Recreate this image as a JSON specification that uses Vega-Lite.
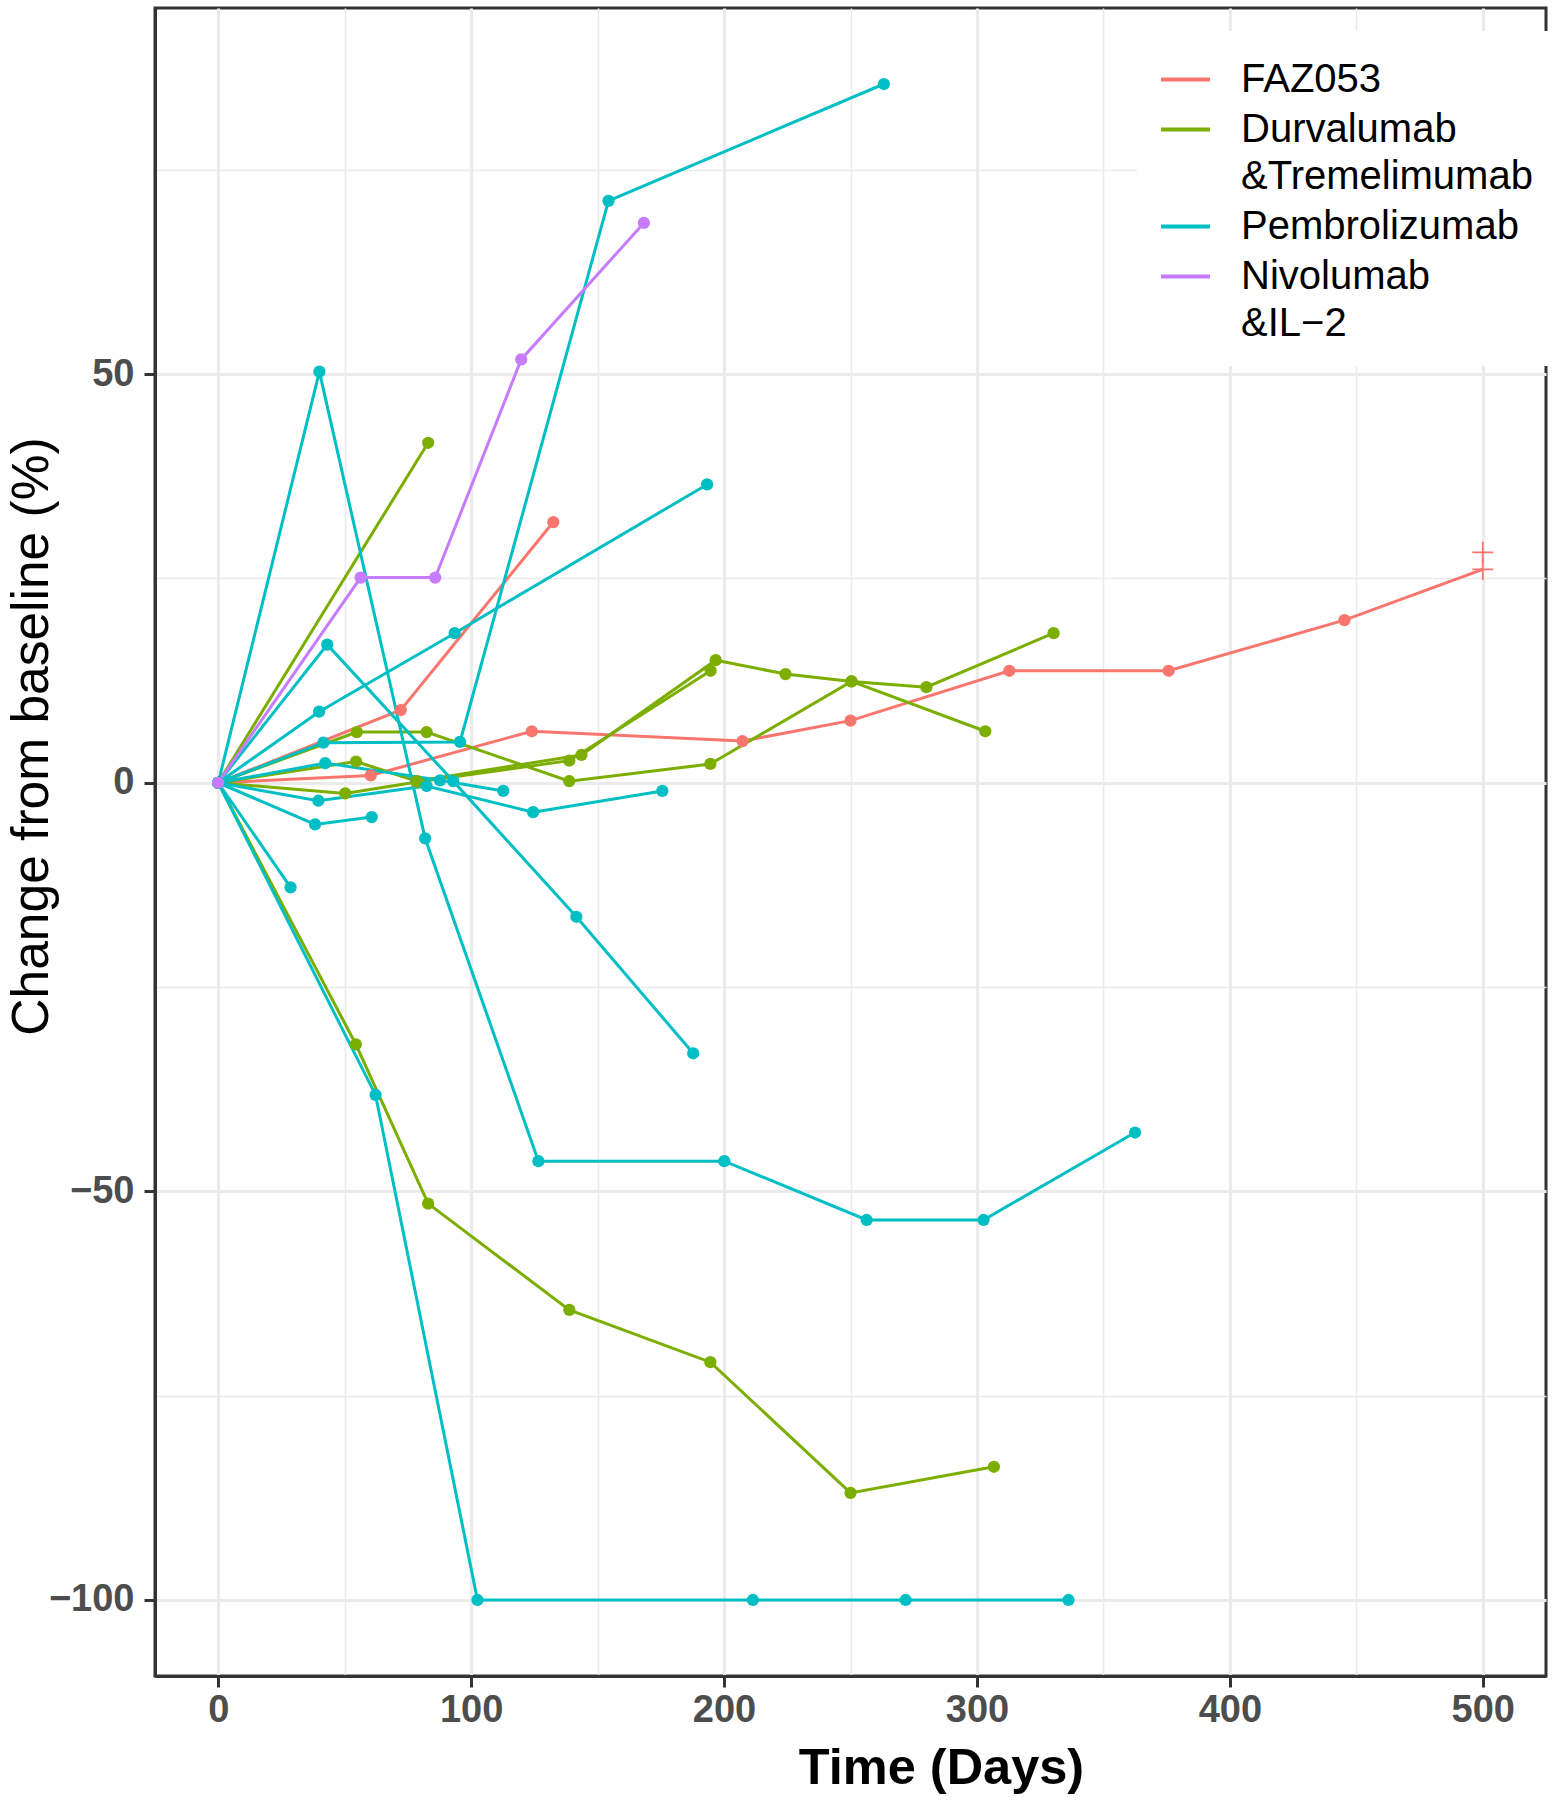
{
  "$schema": "https://vega.github.io/schema/vega-lite/v6.json",
  "width": 1391,
  "height": 1668,
  "autosize": "none",
  "padding": {"left": 155, "top": 8, "right": 8, "bottom": 124},
  "background": "white",
  "datasets": {
    "pts": [
      {"id": "R1", "tx": "FAZ053", "day": 0, "pct": 0, "end": false},
      {"id": "R1", "tx": "FAZ053", "day": 72.2, "pct": 8.9, "end": false},
      {"id": "R1", "tx": "FAZ053", "day": 132.5, "pct": 31.9, "end": false},
      {"id": "R2", "tx": "FAZ053", "day": 0, "pct": 0, "end": false},
      {"id": "R2", "tx": "FAZ053", "day": 60.3, "pct": 0.9, "end": false},
      {"id": "R2", "tx": "FAZ053", "day": 124, "pct": 6.3, "end": false},
      {"id": "R2", "tx": "FAZ053", "day": 207.3, "pct": 5.1, "end": false},
      {"id": "R2", "tx": "FAZ053", "day": 250, "pct": 7.6, "end": false},
      {"id": "R2", "tx": "FAZ053", "day": 312.8, "pct": 13.7, "end": false},
      {"id": "R2", "tx": "FAZ053", "day": 375.8, "pct": 13.7, "end": false},
      {"id": "R2", "tx": "FAZ053", "day": 445.3, "pct": 19.9, "end": false},
      {"id": "R2", "tx": "FAZ053", "day": 500, "pct": 26.1, "end": true},
      {"id": "G1", "tx": "Durvalumab &Tremelimumab", "day": 0, "pct": 0, "end": false},
      {"id": "G1", "tx": "Durvalumab &Tremelimumab", "day": 83, "pct": 41.6, "end": false},
      {"id": "G2", "tx": "Durvalumab &Tremelimumab", "day": 0, "pct": 0, "end": false},
      {"id": "G2", "tx": "Durvalumab &Tremelimumab", "day": 54.4, "pct": -32.0, "end": false},
      {"id": "G2", "tx": "Durvalumab &Tremelimumab", "day": 83.0, "pct": -51.5, "end": false},
      {"id": "G2", "tx": "Durvalumab &Tremelimumab", "day": 138.8, "pct": -64.5, "end": false},
      {"id": "G2", "tx": "Durvalumab &Tremelimumab", "day": 194.6, "pct": -70.9, "end": false},
      {"id": "G2", "tx": "Durvalumab &Tremelimumab", "day": 250, "pct": -86.9, "end": false},
      {"id": "G2", "tx": "Durvalumab &Tremelimumab", "day": 306.7, "pct": -83.7, "end": false},
      {"id": "G3", "tx": "Durvalumab &Tremelimumab", "day": 0, "pct": 0, "end": false},
      {"id": "G3", "tx": "Durvalumab &Tremelimumab", "day": 54.8, "pct": 6.2, "end": false},
      {"id": "G3", "tx": "Durvalumab &Tremelimumab", "day": 82.4, "pct": 6.2, "end": false},
      {"id": "G3", "tx": "Durvalumab &Tremelimumab", "day": 138.8, "pct": 0.2, "end": false},
      {"id": "G3", "tx": "Durvalumab &Tremelimumab", "day": 194.6, "pct": 2.3, "end": false},
      {"id": "G3", "tx": "Durvalumab &Tremelimumab", "day": 250.4, "pct": 12.4, "end": false},
      {"id": "G3", "tx": "Durvalumab &Tremelimumab", "day": 303.3, "pct": 6.3, "end": false},
      {"id": "G4", "tx": "Durvalumab &Tremelimumab", "day": 0, "pct": 0, "end": false},
      {"id": "G4", "tx": "Durvalumab &Tremelimumab", "day": 54.5, "pct": 2.6, "end": false},
      {"id": "G4", "tx": "Durvalumab &Tremelimumab", "day": 78.5, "pct": 0.2, "end": false},
      {"id": "G4", "tx": "Durvalumab &Tremelimumab", "day": 143.6, "pct": 3.4, "end": false},
      {"id": "G4", "tx": "Durvalumab &Tremelimumab", "day": 196.7, "pct": 15.0, "end": false},
      {"id": "G4", "tx": "Durvalumab &Tremelimumab", "day": 224.3, "pct": 13.3, "end": false},
      {"id": "G4", "tx": "Durvalumab &Tremelimumab", "day": 250.4, "pct": 12.4, "end": false},
      {"id": "G4", "tx": "Durvalumab &Tremelimumab", "day": 280, "pct": 11.7, "end": false},
      {"id": "G4", "tx": "Durvalumab &Tremelimumab", "day": 330.3, "pct": 18.3, "end": false},
      {"id": "G5", "tx": "Durvalumab &Tremelimumab", "day": 0, "pct": 0, "end": false},
      {"id": "G5", "tx": "Durvalumab &Tremelimumab", "day": 50.2, "pct": -1.3, "end": false},
      {"id": "G5", "tx": "Durvalumab &Tremelimumab", "day": 78.5, "pct": 0.1, "end": false},
      {"id": "G5", "tx": "Durvalumab &Tremelimumab", "day": 138.8, "pct": 2.7, "end": false},
      {"id": "G5", "tx": "Durvalumab &Tremelimumab", "day": 194.7, "pct": 13.7, "end": false},
      {"id": "P1", "tx": "Pembrolizumab", "day": 0, "pct": 0, "end": false},
      {"id": "P1", "tx": "Pembrolizumab", "day": 41.6, "pct": 4.9, "end": false},
      {"id": "P1", "tx": "Pembrolizumab", "day": 95.6, "pct": 5.0, "end": false},
      {"id": "P1", "tx": "Pembrolizumab", "day": 154.3, "pct": 71.2, "end": false},
      {"id": "P1", "tx": "Pembrolizumab", "day": 263.2, "pct": 85.5, "end": false},
      {"id": "P2", "tx": "Pembrolizumab", "day": 0, "pct": 0, "end": false},
      {"id": "P2", "tx": "Pembrolizumab", "day": 40, "pct": 50.3, "end": false},
      {"id": "P2", "tx": "Pembrolizumab", "day": 81.8, "pct": -6.8, "end": false},
      {"id": "P2", "tx": "Pembrolizumab", "day": 126.6, "pct": -46.3, "end": false},
      {"id": "P2", "tx": "Pembrolizumab", "day": 200.1, "pct": -46.3, "end": false},
      {"id": "P2", "tx": "Pembrolizumab", "day": 256.4, "pct": -53.5, "end": false},
      {"id": "P2", "tx": "Pembrolizumab", "day": 302.6, "pct": -53.5, "end": false},
      {"id": "P2", "tx": "Pembrolizumab", "day": 362.5, "pct": -42.8, "end": false},
      {"id": "P3", "tx": "Pembrolizumab", "day": 0, "pct": 0, "end": false},
      {"id": "P3", "tx": "Pembrolizumab", "day": 28.6, "pct": -12.8, "end": false},
      {"id": "P4", "tx": "Pembrolizumab", "day": 0, "pct": 0, "end": false},
      {"id": "P4", "tx": "Pembrolizumab", "day": 43.1, "pct": 16.9, "end": false},
      {"id": "P4", "tx": "Pembrolizumab", "day": 92.9, "pct": 0.2, "end": false},
      {"id": "P4", "tx": "Pembrolizumab", "day": 141.6, "pct": -16.4, "end": false},
      {"id": "P4", "tx": "Pembrolizumab", "day": 187.8, "pct": -33.1, "end": false},
      {"id": "P5", "tx": "Pembrolizumab", "day": 0, "pct": 0, "end": false},
      {"id": "P5", "tx": "Pembrolizumab", "day": 39.9, "pct": 8.7, "end": false},
      {"id": "P5", "tx": "Pembrolizumab", "day": 93.5, "pct": 18.3, "end": false},
      {"id": "P5", "tx": "Pembrolizumab", "day": 193.3, "pct": 36.5, "end": false},
      {"id": "P6", "tx": "Pembrolizumab", "day": 0, "pct": 0, "end": false},
      {"id": "P6", "tx": "Pembrolizumab", "day": 42.3, "pct": 2.4, "end": false},
      {"id": "P6", "tx": "Pembrolizumab", "day": 87.7, "pct": 0.3, "end": false},
      {"id": "P6", "tx": "Pembrolizumab", "day": 112.7, "pct": -1.0, "end": false},
      {"id": "P7", "tx": "Pembrolizumab", "day": 0, "pct": 0, "end": false},
      {"id": "P7", "tx": "Pembrolizumab", "day": 39.6, "pct": -2.2, "end": false},
      {"id": "P7", "tx": "Pembrolizumab", "day": 82.4, "pct": -0.4, "end": false},
      {"id": "P7", "tx": "Pembrolizumab", "day": 124.5, "pct": -3.6, "end": false},
      {"id": "P7", "tx": "Pembrolizumab", "day": 175.6, "pct": -1.0, "end": false},
      {"id": "P8", "tx": "Pembrolizumab", "day": 0, "pct": 0, "end": false},
      {"id": "P8", "tx": "Pembrolizumab", "day": 38.3, "pct": -5.1, "end": false},
      {"id": "P8", "tx": "Pembrolizumab", "day": 60.7, "pct": -4.2, "end": false},
      {"id": "P9", "tx": "Pembrolizumab", "day": 0, "pct": 0, "end": false},
      {"id": "P9", "tx": "Pembrolizumab", "day": 62.2, "pct": -38.2, "end": false},
      {"id": "P9", "tx": "Pembrolizumab", "day": 102.5, "pct": -100, "end": false},
      {"id": "P9", "tx": "Pembrolizumab", "day": 211.4, "pct": -100, "end": false},
      {"id": "P9", "tx": "Pembrolizumab", "day": 271.8, "pct": -100, "end": false},
      {"id": "P9", "tx": "Pembrolizumab", "day": 336.2, "pct": -100, "end": false},
      {"id": "N1", "tx": "Nivolumab &IL-2", "day": 0, "pct": 0, "end": false},
      {"id": "N1", "tx": "Nivolumab &IL-2", "day": 56.3, "pct": 25.1, "end": false},
      {"id": "N1", "tx": "Nivolumab &IL-2", "day": 85.8, "pct": 25.1, "end": false},
      {"id": "N1", "tx": "Nivolumab &IL-2", "day": 119.8, "pct": 51.8, "end": false},
      {"id": "N1", "tx": "Nivolumab &IL-2", "day": 168.3, "pct": 68.5, "end": false}
    ],
    "censor": [
      {"tx": "FAZ053", "day": 500, "pct": 26.1},
      {"tx": "FAZ053", "day": 500, "pct": 28.2}
    ]
  },
  "config": {
    "font": "Liberation Sans",
    "view": {"stroke": "#333333", "strokeWidth": 3},
    "axis": {
      "domainColor": "#333333",
      "domainWidth": 3,
      "tickColor": "#333333",
      "tickWidth": 3,
      "tickSize": 11,
      "gridColor": "#ebebeb",
      "labelFont": "Liberation Sans",
      "labelFontSize": 38,
      "labelFontWeight": "bold",
      "labelColor": "#4d4d4d",
      "labelOverlap": false,
      "labelFlush": false,
      "labelBound": false,
      "titleFont": "Liberation Sans",
      "titleColor": "#000000"
    }
  },
  "layer": [
    {
      "data": {"name": "pts"},
      "mark": {"type": "line", "strokeWidth": 3},
      "encoding": {
        "x": {
          "field": "day", "type": "quantitative",
          "scale": {"domain": [-25, 525], "nice": false, "zero": false},
          "axis": {
            "values": [0, 50, 100, 150, 200, 250, 300, 350, 400, 450, 500],
            "labelExpr": "datum.value % 100 === 0 ? datum.label : ''",
            "gridWidth": {"condition": {"test": "datum.value % 100 === 0", "value": 3.2}, "value": 1.6},
            "tickOpacity": {"condition": {"test": "datum.value % 100 === 0", "value": 1}, "value": 0},
            "labelPadding": 4,
            "title": "Time (Days)",
            "titleFontSize": 50.5,
            "titleFontWeight": "bold",
            "titleX": 786,
            "titleY": 107,
            "titleBaseline": "alphabetic",
            "titleAlign": "center"
          }
        },
        "y": {
          "field": "pct", "type": "quantitative",
          "scale": {"domain": [-109.3, 94.8], "nice": false, "zero": false},
          "axis": {
            "values": [-100, -75, -50, -25, 0, 25, 50, 75],
            "labelExpr": "datum.value % 50 === 0 ? datum.label : ''",
            "gridWidth": {"condition": {"test": "datum.value % 50 === 0", "value": 3.2}, "value": 1.6},
            "tickOpacity": {"condition": {"test": "datum.value % 50 === 0", "value": 1}, "value": 0},
            "labelPadding": 10,
            "title": "Change from baseline (%)",
            "titleFontSize": 51.5,
            "titleFontWeight": "normal",
            "titleAngle": 270,
            "titleX": -108,
            "titleY": 728,
            "titleBaseline": "alphabetic",
            "titleAlign": "center"
          }
        },
        "color": {
          "field": "tx", "type": "nominal",
          "scale": {
            "domain": ["FAZ053", "Durvalumab &Tremelimumab", "Pembrolizumab", "Nivolumab &IL-2"],
            "range": ["#F8766D", "#7CAE00", "#00BFC4", "#C77CFF"]
          },
          "legend": {
            "orient": "none",
            "legendX": 982,
            "legendY": 23,
            "title": null,
            "symbolType": "stroke",
            "symbolSize": 2400,
            "symbolStrokeWidth": 4,
            "labelFont": "Liberation Sans",
            "labelFontSize": 40,
            "labelColor": "#000000",
            "labelOffset": 29,
            "labelLimit": 0,
            "rowPadding": 3,
            "padding": 22,
            "fillColor": "white",
            "labelExpr": "datum.label === 'Durvalumab &Tremelimumab' ? ['Durvalumab', '&Tremelimumab'] : datum.label === 'Nivolumab &IL-2' ? ['Nivolumab', '&IL\u22122'] : datum.label",
            "encoding": {
              "labels": {
                "lineHeight": {"value": 47}
              }
            }
          }
        },
        "detail": {"field": "id"},
        "order": {"field": "day", "type": "quantitative"}
      }
    },
    {
      "data": {"name": "pts"},
      "transform": [{"filter": "!datum.end"}],
      "mark": {"type": "point", "filled": true, "size": 150, "opacity": 1},
      "encoding": {
        "x": {"field": "day", "type": "quantitative"},
        "y": {"field": "pct", "type": "quantitative"},
        "color": {"field": "tx", "type": "nominal", "legend": null}
      }
    },
    {
      "data": {"name": "censor"},
      "mark": {"type": "point", "shape": "M-1,0H1M0,-1V1", "filled": false, "size": 441, "strokeWidth": 1.8, "opacity": 1},
      "encoding": {
        "x": {"field": "day", "type": "quantitative"},
        "y": {"field": "pct", "type": "quantitative"},
        "color": {"field": "tx", "type": "nominal", "legend": null}
      }
    }
  ]
}
